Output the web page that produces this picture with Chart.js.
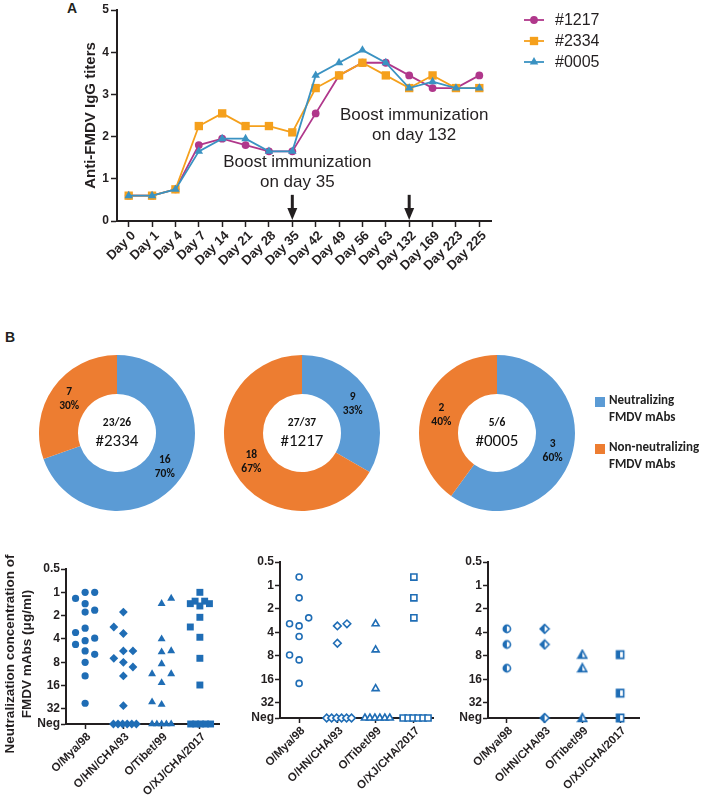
<!DOCTYPE html>
<html>
<head>
<meta charset="utf-8">
<script src="https://cdn.jsdelivr.net/npm/chart.js@4.4.1/dist/chart.umd.min.js"></script>
<style>
  body { margin: 0; background: #fff; width: 709px; height: 804px; position: relative; overflow: hidden; }
  canvas { position: absolute; }
  .tag { position: absolute; font: bold 14px "Liberation Sans", Arial, sans-serif; color: #231f20; line-height: 14px; }
</style>
</head>
<body>
<div class="tag" style="left:67px;top:1px">A</div>
<div class="tag" style="left:5px;top:330px">B</div>
<canvas id="titers" width="709" height="300" style="left:0;top:0"></canvas>
<canvas id="donut2334" width="160" height="160" style="left:37px;top:353px"></canvas>
<canvas id="donut1217" width="160" height="160" style="left:222px;top:353px"></canvas>
<canvas id="donut0005" width="292" height="160" style="left:417px;top:353px"></canvas>
<canvas id="ec2334" width="230" height="264" style="left:0;top:540px"></canvas>
<canvas id="ec1217" width="230" height="264" style="left:230px;top:540px"></canvas>
<canvas id="ec0005" width="249" height="264" style="left:460px;top:540px"></canvas>
<script>
const FONT = '"Liberation Sans", Arial, sans-serif';
const DONUT_FONT = 'Carlito, Lato, sans-serif';
const INK = '#231f20';

// ---- panel A: serum titers ----
const days = ['Day 0', 'Day 1', 'Day 4', 'Day 7', 'Day 14', 'Day 21', 'Day 28', 'Day 35',
  'Day 42', 'Day 49', 'Day 56', 'Day 63', 'Day 132', 'Day 169', 'Day 223', 'Day 225'];
const titer1217 = [0.6, 0.6, 0.75, 1.8, 1.95, 1.8, 1.65, 1.65, 2.55, 3.45, 3.75, 3.75, 3.45, 3.15, 3.15, 3.45];
const titer2334 = [0.6, 0.6, 0.75, 2.25, 2.55, 2.25, 2.25, 2.1, 3.15, 3.45, 3.75, 3.45, 3.15, 3.45, 3.15, 3.15];
const titer0005 = [0.6, 0.6, 0.75, 1.65, 1.95, 1.95, 1.65, 1.65, 3.45, 3.75, 4.05, 3.75, 3.15, 3.3, 3.15, 3.15];
const boostDays = ['Day 35', 'Day 132'];
const boostNotes = [['Boost immunization', 'on day 35'], ['Boost immunization', 'on day 132']];

// ---- panel B: donuts ----
const donutNames = ['#2334', '#1217', '#0005'];
const neutralizing = [16, 9, 3];
const nonNeutralizing = [7, 18, 2];
const bindingRatio = ['23/26', '27/37', '5/6'];

// ---- panel B: neutralization concentration (µg/ml), NEG = no neutralization ----
const NEG = 50;
const strains = ['O/Mya/98', 'O/HN/CHA/93', 'O/Tibet/99', 'O/XJ/CHA/2017'];
const concTicks = [0.5, 1, 2, 4, 8, 16, 32, NEG];
const conc2334 = [
  [1.2, 1.0, 1.0, 1.4, 1.7, 1.8, 2.9, 3.3, 3.9, 4.2, 4.7, 5.7, 6.3, 8, 12, 27],
  [1.8, 2.8, 3.4, 5.7, 5.7, 7.1, 8, 9.2, 12, 29, NEG, NEG, NEG, NEG, NEG, NEG],
  [1.2, 1.4, 4, 5.7, 5.9, 8.4, 11.3, 11.3, 14.7, 26, 28, NEG, NEG, NEG, NEG, NEG],
  [1.0, 1.3, 1.3, 1.4, 1.4, 1.5, 2.1, 2.8, 3.8, 7.1, 15.7, NEG, NEG, NEG, NEG, NEG]
];
// horizontal slot of each point inside its column (column widths)
const slot2334 = [
  [-0.25, 0, 0.25, 0, 0.25, 0, 0, -0.25, 0.25, 0, -0.25, 0, 0.25, 0, 0, 0],
  [0, -0.25, 0, 0, 0.25, -0.25, 0, 0.25, 0, 0, -0.26, -0.14, -0.02, 0.1, 0.22, 0.34],
  [0.25, 0, 0, 0.25, 0, 0, -0.25, 0.25, 0, -0.25, 0, -0.25, -0.125, 0, 0.125, 0.25],
  [0, -0.125, 0.125, -0.25, 0.25, 0, 0, -0.25, 0, 0, 0, -0.24, -0.11, 0.02, 0.15, 0.28]
];
const conc1217 = [
  [0.78, 1.44, 2.6, 3.1, 3.3, 4.5, 7.8, 9, 18],
  [3.1, 3.3, 5.5, NEG, NEG, NEG, NEG, NEG, NEG],
  [3.1, 6.7, 21, NEG, NEG, NEG, NEG, NEG, NEG],
  [0.78, 1.44, 2.6, NEG, NEG, NEG, NEG, NEG, NEG]
];
const slot1217 = [
  [0, 0, 0.25, -0.25, 0, 0, -0.25, 0, 0],
  [0.25, 0, 0, -0.28, -0.15, -0.02, 0.11, 0.24, 0.37],
  [0, 0, 0, -0.28, -0.15, -0.02, 0.11, 0.24, 0.37],
  [0, 0, 0, -0.28, -0.15, -0.02, 0.11, 0.24, 0.37]
];
const conc0005 = [
  [3.6, 5.7, 11.5],
  [3.6, 5.7, NEG],
  [7.7, 11.5, NEG],
  [7.7, 24, NEG]
];

const BLUE = '#1f6db5';
const shapes = ['circle', 'rectRot', 'triangle', 'rect'];
const shapeRadius = { circle: 3.6, rectRot: 4.4, triangle: 4.6, rect: 4.9 };

// ---------- panel A ----------
const boostPlugin = {
  id: 'boosts',
  afterDatasetsDraw(chart) {
    const { ctx, scales: { x, y } } = chart;
    ctx.save();
    boostDays.forEach((d, i) => {
      const px = x.getPixelForValue(days.indexOf(d));
      const top = y.getPixelForValue(0.62);
      const tip = y.bottom - 1;
      ctx.strokeStyle = INK;
      ctx.fillStyle = INK;
      ctx.lineWidth = 3;
      ctx.beginPath();
      ctx.moveTo(px, top);
      ctx.lineTo(px, tip - 10);
      ctx.stroke();
      ctx.beginPath();
      ctx.moveTo(px - 5, tip - 12);
      ctx.lineTo(px + 5, tip - 12);
      ctx.lineTo(px, tip);
      ctx.closePath();
      ctx.fill();
      ctx.font = '17px ' + FONT;
      ctx.textAlign = 'center';
      ctx.textBaseline = 'middle';
      const y0 = i === 0 ? y.getPixelForValue(1.38) : y.getPixelForValue(2.51);
      boostNotes[i].forEach((t, j) => ctx.fillText(t, px + 5, y0 + j * 20));
    });
    ctx.restore();
  }
};

const lineLegend = {
  id: 'lineLegend',
  afterDraw(chart) {
    const { ctx } = chart;
    chart.data.datasets.forEach((ds, i) => {
      const y = 20 + i * 21;
      const x0 = 524;
      ctx.save();
      ctx.strokeStyle = ds.borderColor;
      ctx.lineWidth = ds.borderWidth;
      ctx.beginPath();
      ctx.moveTo(x0, y);
      ctx.lineTo(x0 + 20, y);
      ctx.stroke();
      ctx.fillStyle = ds.backgroundColor;
      Chart.helpers.drawPoint(ctx, { pointStyle: ds.pointStyle, radius: ds.pointRadius, borderWidth: 0, rotation: 0 }, x0 + 10, y);
      ctx.fillStyle = INK;
      ctx.font = '16px ' + FONT;
      ctx.textAlign = 'left';
      ctx.textBaseline = 'middle';
      ctx.fillText(ds.label, x0 + 31, y + 1);
      ctx.restore();
    });
  }
};

function lineSet(label, data, color, style, radius, order) {
  return {
    label, data, order,
    borderColor: color, backgroundColor: color,
    borderWidth: 1.8, pointStyle: style, pointRadius: radius,
    pointBorderWidth: 0, pointHoverRadius: radius, tension: 0
  };
}

new Chart(document.getElementById('titers'), {
  type: 'line',
  data: {
    labels: days,
    datasets: [
      lineSet('#1217', titer1217, '#b0378b', 'circle', 3.9, 3),
      lineSet('#2334', titer2334, '#f5a01c', 'rect', 5.9, 2),
      lineSet('#0005', titer0005, '#3a92c2', 'triangle', 4.9, 1)
    ]
  },
  options: {
    responsive: false,
    animation: false,
    layout: { padding: { left: 80, top: 10, right: 218, bottom: 0 } },
    plugins: { legend: { display: false }, tooltip: { enabled: false } },
    scales: {
      x: {
        offset: true,
        afterFit: (s) => { s.height = 79; },
        grid: { offset: false, drawOnChartArea: false, tickLength: 6, tickWidth: 1.5, tickColor: INK },
        border: { color: INK, width: 2 },
        ticks: {
          autoSkip: false, maxRotation: 45, minRotation: 45, padding: 1, labelOffset: 5,
          color: INK, font: { family: FONT, size: 13, weight: 'bold' }
        }
      },
      y: {
        min: 0, max: 5,
        afterFit: (s) => { s.width = 37; },
        grid: { drawOnChartArea: false, tickLength: 6, tickWidth: 1.5, tickColor: INK },
        border: { color: INK, width: 2 },
        ticks: { stepSize: 1, padding: 2, color: INK, font: { family: FONT, size: 12, weight: 'bold' } },
        title: {
          display: true, text: 'Anti-FMDV IgG titers', color: INK,
          padding: { top: 2, bottom: 0 }, font: { family: FONT, size: 15, weight: 'bold' }
        }
      }
    }
  },
  plugins: [boostPlugin, lineLegend]
});

// ---------- panel B donuts ----------
const donutText = {
  id: 'donutText',
  afterDatasetsDraw(chart, args, opts) {
    const { ctx } = chart;
    const meta = chart.getDatasetMeta(0);
    const data = chart.data.datasets[0].data;
    const total = data.reduce((a, b) => a + b, 0);
    ctx.save();
    ctx.fillStyle = '#111';
    ctx.textAlign = 'center';
    ctx.textBaseline = 'middle';
    ctx.font = 'bold 11.5px ' + DONUT_FONT;
    meta.data.forEach((arc, i) => {
      const p = arc.tooltipPosition();
      ctx.fillText(String(data[i]), p.x, p.y - 7);
      ctx.fillText(Math.round(data[i] / total * 100) + '%', p.x, p.y + 7);
    });
    const cx = meta.data[0].x;
    const cy = meta.data[0].y;
    ctx.fillText(opts.ratio, cx, cy - 10);
    ctx.font = '17px ' + DONUT_FONT;
    ctx.fillText(opts.name, cx, cy + 9);
    ctx.restore();
  }
};

const donutLegend = {
  id: 'donutLegend',
  afterDraw(chart) {
    const { ctx } = chart;
    const items = [
      { color: '#5b9bd5', lines: ['Neutralizing', 'FMDV mAbs'], y: 48 },
      { color: '#ed7d31', lines: ['Non-neutralizing', 'FMDV mAbs'], y: 95 }
    ];
    ctx.save();
    items.forEach((it) => {
      ctx.fillStyle = it.color;
      ctx.fillRect(178, it.y - 4, 10, 10);
      ctx.fillStyle = '#222';
      ctx.font = 'bold 13px ' + DONUT_FONT;
      ctx.textBaseline = 'middle';
      it.lines.forEach((t, j) => ctx.fillText(t, 192, it.y + j * 17));
    });
    ctx.restore();
  }
};

donutNames.forEach((name, i) => {
  const withLegend = i === 2;
  new Chart(document.getElementById('donut' + name.slice(1)), {
    type: 'doughnut',
    data: {
      labels: ['Neutralizing FMDV mAbs', 'Non-neutralizing FMDV mAbs'],
      datasets: [{
        data: [neutralizing[i], nonNeutralizing[i]],
        backgroundColor: ['#5b9bd5', '#ed7d31'],
        borderWidth: 0
      }]
    },
    options: {
      responsive: false,
      animation: false,
      cutout: '50%',
      layout: { padding: { left: 2, top: 2, bottom: 2, right: withLegend ? 134 : 2 } },
      plugins: {
        legend: { display: false },
        tooltip: { enabled: false },
        donutText: { ratio: bindingRatio[i], name }
      }
    },
    plugins: withLegend ? [donutText, donutLegend] : [donutText]
  });
});

// ---------- panel B scatter ----------
function halfMarker(shape) {
  const c = document.createElement('canvas');
  const s = 12;
  c.width = s;
  c.height = s;
  const g = c.getContext('2d');
  const m = s / 2;
  g.beginPath();
  if (shape === 'circle') {
    g.arc(m, m, 3.6, 0, Math.PI * 2);
  } else if (shape === 'rectRot') {
    g.moveTo(m, m - 4.4); g.lineTo(m + 4.4, m); g.lineTo(m, m + 4.4); g.lineTo(m - 4.4, m); g.closePath();
  } else if (shape === 'triangle') {
    g.moveTo(m, m - 4.4); g.lineTo(m + 4.4, m + 3.4); g.lineTo(m - 4.4, m + 3.4); g.closePath();
  } else {
    g.rect(m - 3.6, m - 3.6, 7.2, 7.2);
  }
  g.fillStyle = '#fff';
  g.fill();
  g.save();
  g.clip();
  g.fillStyle = BLUE;
  g.fillRect(0, 0, m, s);
  g.restore();
  g.lineWidth = 1.6;
  g.strokeStyle = BLUE;
  g.stroke();
  return c;
}

function makeScatter(id, conc, slots, look, box) {
  const datasets = strains.map((st, k) => ({
    label: st,
    data: conc[k].map((v, j) => ({ x: k + 1 + (slots ? slots[k][j] : 0), y: v })),
    pointStyle: look === 'half' ? halfMarker(shapes[k]) : shapes[k],
    pointRadius: shapeRadius[shapes[k]] - (look === 'open' ? 0.6 : 0),
    pointHoverRadius: shapeRadius[shapes[k]],
    pointBackgroundColor: look === 'open' ? '#fff' : BLUE,
    pointBorderColor: BLUE,
    pointBorderWidth: look === 'open' ? 1.6 : 0
  }));
  new Chart(document.getElementById(id), {
    type: 'scatter',
    data: { datasets },
    options: {
      responsive: false,
      animation: false,
      clip: false,
      layout: { padding: { left: 0, top: box.top, right: box.right, bottom: 0 } },
      plugins: { legend: { display: false }, tooltip: { enabled: false } },
      scales: {
        x: {
          type: 'linear', min: 0.5, max: 4.5,
          afterBuildTicks: (s) => { s.ticks = strains.map((_, k) => ({ value: k + 1 })); },
          afterFit: (s) => { s.height = box.xh; },
          grid: { drawOnChartArea: false, tickLength: 5, tickWidth: 1.5, tickColor: INK },
          border: { color: INK, width: 2 },
          ticks: {
            autoSkip: false, maxRotation: 45, minRotation: 45, padding: 1, labelOffset: 4,
            color: INK, font: { family: FONT, size: 11.5, weight: 'bold' },
            callback: (v) => strains[v - 1]
          }
        },
        y: {
          type: 'logarithmic', reverse: true, min: 0.5, max: NEG,
          afterBuildTicks: (s) => { s.ticks = concTicks.map((v) => ({ value: v })); },
          afterFit: (s) => { s.width = box.yw; },
          grid: { drawOnChartArea: false, tickLength: 5, tickWidth: 1.5, tickColor: INK },
          border: { color: INK, width: 2 },
          ticks: {
            autoSkip: false, padding: 1, color: INK,
            font: { family: FONT, size: 12, weight: 'bold' },
            callback: (v) => (v === NEG ? 'Neg' : String(v))
          },
          title: {
            display: !!box.title,
            // trailing spaces nudge the rotated title slightly downward, as in the figure
            text: ['Neutralization concentration of    ', 'FMDV mAbs (\u03bcg/ml)    '],
            color: INK, padding: { top: 1.5, bottom: 0 },
            font: { family: FONT, size: 13.5, weight: 'bold', lineHeight: 1.27 }
          }
        }
      }
    }
  });
}

makeScatter('ec2334', conc2334, slot2334, 'filled', { top: 29, right: 11, xh: 80, yw: 66, title: true });
makeScatter('ec1217', conc1217, slot1217, 'open', { top: 22, right: 27, xh: 86, yw: 50 });
makeScatter('ec0005', conc0005, null, 'half', { top: 22, right: 70, xh: 86, yw: 28 });
</script>
</body>
</html>
